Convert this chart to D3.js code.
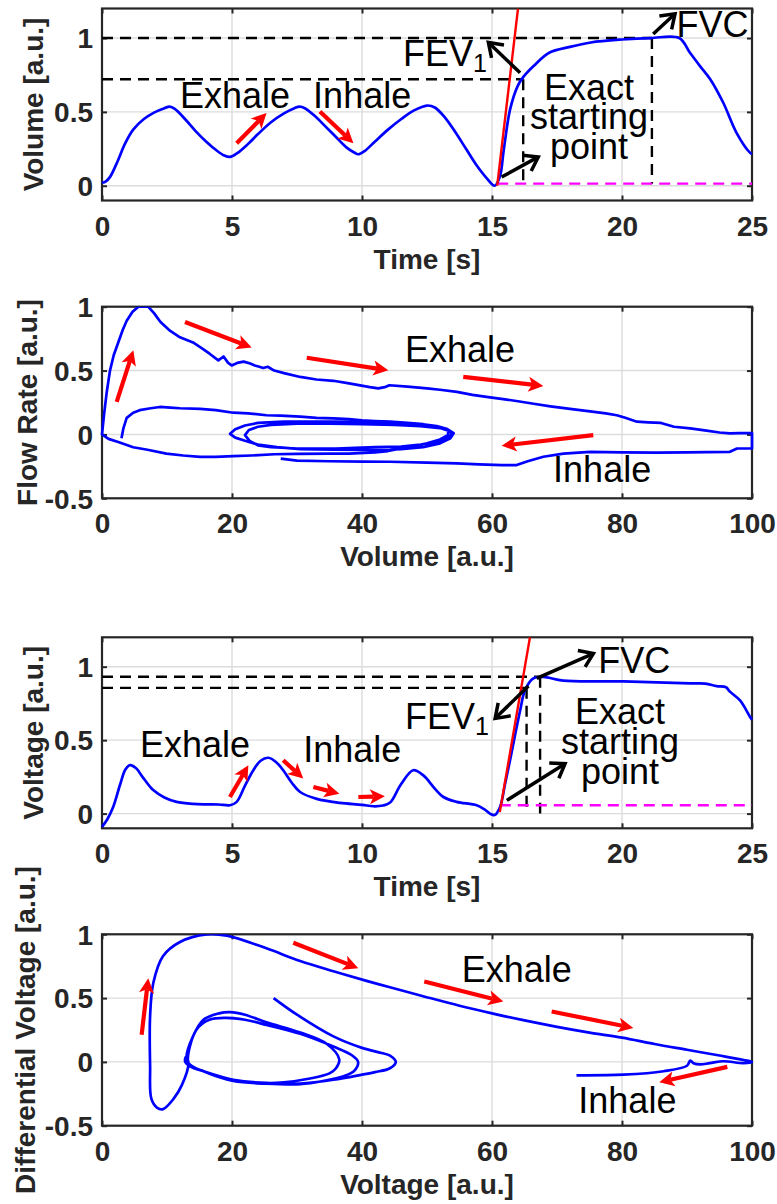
<!DOCTYPE html>
<html><head><meta charset="utf-8">
<script src="https://cdn.jsdelivr.net/npm/d3@7"></script>
<style>
body{margin:0;background:#fff;}
svg text{font-family: Arial, "Liberation Sans", Helvetica, sans-serif;}
</style></head><body>
<svg id="c" width="777" height="1204"></svg>
<script>
// ---------------- DATA ----------------
const timeTicks = [0, 5, 10, 15, 20, 25];
const pctTicks = [0, 20, 40, 60, 80, 100];
const unitTicks = [0, 0.5, 1];
const signedTicks = [-0.5, 0, 0.5, 1];

// Panel 1: volume vs time
const volTime = [0,0.15,0.31,0.56,0.9,1.2,1.6,2.0,2.4,2.6,2.8,3.2,3.6,4.0,4.4,4.7,4.92,5.2,5.6,6.0,6.5,7.0,7.4,7.6,7.8,8.2,8.6,9.0,9.4,9.7,9.85,10.1,10.5,11.0,11.5,12.0,12.5,12.8,13.2,13.6,14.0,14.4,14.8,15.1,15.3,15.45,15.7,16.0,16.2,16.6,17.2,18.0,18.8,20.0,21.1,22.2,22.6,23.0,23.4,23.9,24.4,24.92,25];
const volValue = [0.02,0.03,0.06,0.15,0.29,0.38,0.45,0.495,0.525,0.535,0.52,0.45,0.37,0.3,0.24,0.205,0.195,0.22,0.28,0.35,0.43,0.49,0.525,0.535,0.525,0.47,0.4,0.33,0.26,0.225,0.213,0.235,0.3,0.38,0.45,0.51,0.543,0.53,0.46,0.36,0.25,0.14,0.05,0.0,0.06,0.24,0.52,0.68,0.735,0.81,0.9,0.94,0.97,0.99,1.0,1.0,0.904,0.81,0.72,0.56,0.36,0.224,0.215];

// Panel 2: flow rate vs volume (time ordered)
const fvVolume = [3.0,3.3,3.8,4.8,5.8,7.5,8.9,10.5,12,15.1,17.5,20.2,22.5,25.3,27.5,30.5,33,35.6,38,40,42,44.3,47,49.4,51.5,53,54.1,53.6,52,49.4,46,44.3,40,35.6,30.5,26.9,24,22,20.5,19.7,20.5,22,24,28,32,36,40,44,48,51,53.2,53.8,53.2,51.5,49,46,42,36,30,26,24,22.7,22,22.6,24,26,30,35,40,45,49,52,53.3,53.2,52,50,47,44,42,38,35,30,26.5,23,20.2,17.5,15.1,12.5,9.9,7,4.8,2.5,1,0,
  0.3,0.7,1.23,1.8,2.5,3.2,3.8,4.7,5.6,7.1,8.0,9.0,10.5,12,14,15.5,16.6,17.9,18.7,19.4,19.95,20.8,21.8,22.8,23.5,24.2,24.8,25.5,26.5,28,30.5,33,35.6,38,41.2,42.5,43.5,44.2,47,50,52,54.6,57,59.7,62,64,66.4,69,72,75.1,77.5,79.2,80.5,82.3,84,86,88,90.5,93,95,96.6,98,100,
  100,97.7,96.6,93,90,85.3,80,75.1,71,67.9,65.5,63.8,61.5,58,54.6,50,44.3,40,35,30,27.5];
const fvFlow = [-0.03,0.05,0.13,0.17,0.19,0.205,0.215,0.21,0.205,0.2,0.19,0.17,0.165,0.15,0.148,0.14,0.13,0.125,0.12,0.11,0.105,0.1,0.09,0.08,0.065,0.045,0.01,-0.03,-0.07,-0.1,-0.115,-0.12,-0.122,-0.12,-0.115,-0.1,-0.08,-0.05,-0.025,0.005,0.04,0.07,0.09,0.1,0.1,0.1,0.095,0.09,0.075,0.06,0.04,0.005,-0.03,-0.06,-0.08,-0.095,-0.1,-0.11,-0.11,-0.1,-0.085,-0.05,-0.005,0.035,0.06,0.075,0.085,0.085,0.08,0.075,0.065,0.05,0.03,-0.005,-0.04,-0.07,-0.1,-0.13,-0.14,-0.15,-0.15,-0.152,-0.155,-0.165,-0.17,-0.175,-0.175,-0.165,-0.15,-0.12,-0.1,-0.06,-0.035,0.0,
  0.15,0.32,0.5,0.62,0.72,0.82,0.89,0.96,1.0,1.0,0.95,0.88,0.81,0.76,0.72,0.67,0.63,0.58,0.61,0.56,0.54,0.56,0.57,0.555,0.54,0.53,0.52,0.53,0.5,0.48,0.45,0.43,0.42,0.4,0.37,0.36,0.37,0.385,0.375,0.36,0.35,0.333,0.31,0.29,0.275,0.26,0.24,0.22,0.2,0.18,0.165,0.15,0.13,0.1,0.095,0.09,0.06,0.047,0.03,0.015,0.008,0.01,0.01,
  -0.11,-0.11,-0.136,-0.138,-0.14,-0.143,-0.14,-0.136,-0.15,-0.175,-0.21,-0.24,-0.24,-0.235,-0.227,-0.22,-0.214,-0.213,-0.21,-0.205,-0.19];

// Panel 3: voltage vs time
const vtTime = [0,0.2,0.43,0.7,0.9,1.08,1.3,1.6,1.97,2.4,2.87,3.5,4.03,4.5,4.92,5.18,5.5,5.82,6.1,6.4,6.7,6.97,7.3,7.62,8.26,9.15,10.0,10.44,10.8,11.08,11.5,11.97,12.36,12.8,13.13,13.64,14.41,14.7,14.92,15.1,15.31,15.5,15.69,16.08,16.27,16.59,16.97,17.74,20.05,22.62,23.2,23.64,24.0,24.15,24.54,24.92,25];
const vtValue = [-0.09,-0.04,0.045,0.2,0.3,0.33,0.31,0.24,0.16,0.11,0.08,0.066,0.063,0.062,0.057,0.08,0.19,0.295,0.36,0.38,0.35,0.295,0.21,0.147,0.1,0.073,0.06,0.05,0.055,0.075,0.2,0.295,0.26,0.17,0.113,0.08,0.057,0.03,0.0,-0.01,0.045,0.2,0.36,0.7,0.84,0.92,0.93,0.905,0.9,0.886,0.885,0.868,0.86,0.83,0.77,0.66,0.64];

// Panel 4: differential voltage vs voltage (time ordered)
const dvVoltage = [26.4,30,35.6,40,43,44.3,45.2,44.3,42,40,35.6,30.5,25.3,20.2,15.4,13.5,13,14,15.6,18,19.7,22,25.3,30.5,34.6,36.5,36,35,32,28,25.3,20.2,16,13.5,13.2,14.5,16.5,19,22,25.3,30.5,35.6,38.5,39.4,38.8,37.3,34,30.5,25,20.2,15.5,13.5,12.8,12.9,13.3,12.3,11,9.4,8.5,7.6,7.4,7.4,7.9,9.4,12,16.1,19.2,25.3,30.5,35.6,40.7,44.3,49.4,55,60,65,70,75,80,85,90,95,98.7,100,98.7,95.6,93.5,92,91,90.5,90,86.4,80.2,73];
const dvDiff = [0.5,0.37,0.2,0.11,0.07,0.05,0.0,-0.05,-0.08,-0.1,-0.14,-0.17,-0.17,-0.15,-0.07,-0.02,0.03,0.2,0.33,0.38,0.39,0.37,0.31,0.23,0.14,0.02,-0.05,-0.09,-0.13,-0.16,-0.165,-0.14,-0.08,-0.03,0.02,0.25,0.33,0.345,0.33,0.29,0.22,0.12,0.05,0.0,-0.07,-0.11,-0.15,-0.175,-0.17,-0.15,-0.07,-0.03,0.0,0.04,-0.01,-0.18,-0.29,-0.37,-0.36,-0.29,-0.03,0.36,0.62,0.83,0.94,1.0,0.99,0.89,0.79,0.71,0.635,0.585,0.515,0.44,0.38,0.325,0.275,0.23,0.19,0.14,0.095,0.05,0.015,0.0,-0.01,0.005,-0.01,-0.02,-0.01,0.01,-0.03,-0.073,-0.1,-0.105];

// ---------------- DRAWING ----------------
const svg = d3.select("#c");
const defs = svg.append("defs");
const INK = "#262626";

function makePanel(cfg) {
  const b = cfg.box;
  const x = d3.scaleLinear().domain(cfg.xDomain).range([b.l, b.r]);
  const y = d3.scaleLinear().domain(cfg.yDomain).range([b.b, b.t]);
  const g = svg.append("g");
  defs.append("clipPath").attr("id", "clip" + cfg.id).append("rect")
    .attr("x", b.l - 2).attr("y", b.t).attr("width", b.r - b.l + 4).attr("height", b.b - b.t + 2);
  // grid
  g.append("g").selectAll("line").data(cfg.xTicks).join("line")
    .attr("x1", d => x(d)).attr("x2", d => x(d)).attr("y1", b.t).attr("y2", b.b)
    .attr("stroke", "#dcdcdc").attr("stroke-width", 1.4);
  g.append("g").selectAll("line").data(cfg.yTicks).join("line")
    .attr("y1", d => y(d)).attr("y2", d => y(d)).attr("x1", b.l).attr("x2", b.r)
    .attr("stroke", "#dcdcdc").attr("stroke-width", 1.4);
  const fmt = d => String(d);
  const ax = (axis, tr) => {
    const a = g.append("g").attr("transform", tr).call(axis);
    a.select(".domain").remove();
    a.selectAll("line").attr("stroke", INK).attr("stroke-width", 2);
    a.selectAll("text").attr("fill", INK).attr("font-size", 28).attr("font-weight", "bold");
    return a;
  };
  const bottom = ax(d3.axisBottom(x).tickValues(cfg.xTicks).tickSize(-5).tickFormat(fmt), `translate(0,${b.b})`);
  bottom.selectAll("text").attr("y", 35).attr("dy", null);
  const left = ax(d3.axisLeft(y).tickValues(cfg.yTicks).tickSize(-5).tickFormat(fmt), `translate(${b.l},0)`);
  left.selectAll("text").attr("x", -9).attr("dy", "0.35em");
  ax(d3.axisTop(x).tickValues(cfg.xTicks).tickSize(-5).tickFormat(""), `translate(0,${b.t})`);
  ax(d3.axisRight(y).tickValues(cfg.yTicks).tickSize(-5).tickFormat(""), `translate(${b.r},0)`);
  g.append("rect").attr("x", b.l).attr("y", b.t).attr("width", b.r - b.l).attr("height", b.b - b.t)
    .attr("fill", "none").attr("stroke", INK).attr("stroke-width", 2.2);
  // axis labels
  g.append("text").attr("x", (b.l + b.r) / 2).attr("y", b.b + 68).attr("text-anchor", "middle")
    .attr("font-size", 28).attr("font-weight", "bold").attr("fill", INK).text(cfg.xLabel);
  g.append("text").attr("transform", `translate(${cfg.yLabelX},${(b.t + b.b) / 2}) rotate(-90)`)
    .attr("text-anchor", "middle").attr("font-size", 28).attr("font-weight", "bold").attr("fill", INK).text(cfg.yLabel);
  const plot = g.append("g").attr("clip-path", `url(#clip${cfg.id})`);
  const ann = g.append("g");
  return { x, y, g, plot, ann };
}

function series(p, xs, ys, color, width, dash, curve) {
  const pts = xs.map((d, i) => [d, ys[i]]);
  const line = d3.line().x(d => p.x(d[0])).y(d => p.y(d[1])).curve(curve || d3.curveLinear);
  p.plot.append("path").attr("d", line(pts)).attr("fill", "none").attr("stroke", color)
    .attr("stroke-width", width).attr("stroke-dasharray", dash || null).attr("stroke-linejoin", "round");
}

function text(p, s, xv, yv, anchor, sub) {
  const t = p.ann.append("text").attr("x", p.x(xv)).attr("y", p.y(yv)).attr("text-anchor", anchor || "start")
    .attr("font-size", 36).attr("fill", "#000").text(s);
  if (sub) t.append("tspan").attr("font-size", 25).attr("dy", 6).text(sub);
}

// multi-line annotation kept in one text element
function textLines(p, lines, xv, yv, lineGap) {
  const t = p.ann.append("text").attr("x", p.x(xv)).attr("y", p.y(yv)).attr("text-anchor", "middle")
    .attr("font-size", 36).attr("fill", "#000");
  lines.forEach((s, i) => t.append("tspan").attr("x", p.x(xv)).attr("dy", i ? lineGap : 0).text(s));
}

function arrow(p, x1, y1, x2, y2, color, kind) {
  const X1 = p.x(x1), Y1 = p.y(y1), X2 = p.x(x2), Y2 = p.y(y2);
  const dx = X2 - X1, dy = Y2 - Y1, L = Math.hypot(dx, dy);
  const ux = dx / L, uy = dy / L, nx = -uy, ny = ux;
  if (kind === "red") {
    const hl = 15, hw = 7.5;
    const bx = X2 - ux * hl, by = Y2 - uy * hl;
    const mx = X2 - ux * hl * 0.75, my = Y2 - uy * hl * 0.75;
    p.ann.append("line").attr("x1", X1).attr("y1", Y1).attr("x2", mx).attr("y2", my)
      .attr("stroke", color).attr("stroke-width", 4.2);
    p.ann.append("polygon").attr("points", [[X2, Y2], [bx + nx * hw, by + ny * hw], [mx, my], [bx - nx * hw, by - ny * hw]].join(" "))
      .attr("fill", color);
  } else {
    const hl = 13, hw = 9;
    const bx = X2 - ux * hl, by = Y2 - uy * hl;
    p.ann.append("line").attr("x1", X1).attr("y1", Y1).attr("x2", X2 - ux * 1.5).attr("y2", Y2 - uy * 1.5)
      .attr("stroke", color).attr("stroke-width", 3.5);
    p.ann.append("polyline").attr("points", [[bx + nx * hw, by + ny * hw], [X2, Y2], [bx - nx * hw, by - ny * hw]].join(" "))
      .attr("fill", "none").attr("stroke", color).attr("stroke-width", 3.5).attr("stroke-linejoin", "miter");
  }
}

function seg(p, x1, y1, x2, y2, color, dash) {
  series(p, [x1, x2], [y1, y2], color, 2.4, dash);
}

const BLUE_W = 2.7;

// ---- Panel 1 ----
const p1 = makePanel({ id: 1, xDomain: [0, 25], yDomain: [-0.1, 1.2], box: { l: 102, r: 752, t: 8.5, b: 200.5 },
  xTicks: timeTicks, yTicks: unitTicks, xLabel: "Time [s]", yLabel: "Volume [a.u.]", yLabelX: 43 });
seg(p1, 0, 1.0, 21.15, 1.0, "#000", "11,7");
seg(p1, 0, 0.721, 16.2, 0.721, "#000", "11,7");
seg(p1, 16.2, 0.721, 16.2, 0.014, "#000", "11,7");
seg(p1, 21.15, 1.0, 21.15, 0.014, "#000", "11,7");
seg(p1, 15.2, 0.014, 25, 0.014, "#ff00ff", "11,7");
series(p1, volTime, volValue, "#0000ff", BLUE_W, null, d3.curveCatmullRom);
seg(p1, 15.2, 0, 16.0, 1.2, "#ff0000");
text(p1, "Exhale", 3.0, 0.526);
text(p1, "Inhale", 8.12, 0.526);
arrow(p1, 5.18, 0.287, 6.33, 0.492, "#ff0000", "red");
arrow(p1, 8.38, 0.503, 9.67, 0.287, "#ff0000", "red");
text(p1, "FEV", 11.58, 0.81, "start", "1");
arrow(p1, 16.08, 0.765, 14.86, 0.97, "#000", "black");
text(p1, "FVC", 22.1, 1.005);
arrow(p1, 21.2, 1.027, 22.04, 1.164, "#000", "black");
textLines(p1, ["Exact", "starting", "point"], 18.73, 0.583, 29.5);
arrow(p1, 15.37, 0.059, 16.78, 0.195, "#000", "black");

// ---- Panel 2 ----
const p2 = makePanel({ id: 2, xDomain: [0, 100], yDomain: [-0.5, 1], box: { l: 102, r: 752, t: 306.7, b: 498.3 },
  xTicks: pctTicks, yTicks: signedTicks, xLabel: "Volume [a.u.]", yLabel: "Flow Rate [a.u.]", yLabelX: 37 });
series(p2, fvVolume, fvFlow, "#0000ff", BLUE_W);
arrow(p2, 2.26, 0.255, 4.82, 0.659, "#ff0000", "red");
arrow(p2, 12.77, 0.88, 23.03, 0.68, "#ff0000", "red");
arrow(p2, 31.5, 0.60, 44.05, 0.502, "#ff0000", "red");
arrow(p2, 55.58, 0.45, 67.9, 0.38, "#ff0000", "red");
arrow(p2, 75.58, -0.005, 61.48, -0.089, "#ff0000", "red");
text(p2, "Exhale", 46.6, 0.567);
text(p2, "Inhale", 69.4, -0.37);

// ---- Panel 3 ----
const p3 = makePanel({ id: 3, xDomain: [0, 25], yDomain: [-0.1, 1.2], box: { l: 102, r: 752, t: 637.3, b: 828.3 },
  xTicks: timeTicks, yTicks: unitTicks, xLabel: "Time [s]", yLabel: "Voltage [a.u.]", yLabelX: 43 });
seg(p3, 0, 0.932, 16.85, 0.932, "#000", "11,7");
seg(p3, 0, 0.856, 16.33, 0.856, "#000", "11,7");
seg(p3, 16.33, 0.856, 16.33, 0.04, "#000", "11,7");
seg(p3, 16.85, 0.932, 16.85, 0.0, "#000", "11,7");
seg(p3, 15.3, 0.057, 25, 0.057, "#ff00ff", "11,7");
series(p3, vtTime, vtValue, "#0000ff", BLUE_W, null, d3.curveCatmullRom);
seg(p3, 15.3, 0.01, 16.46, 1.2, "#ff0000");
text(p3, "Exhale", 1.46, 0.386);
text(p3, "Inhale", 7.74, 0.352);
arrow(p3, 4.92, 0.113, 5.63, 0.329, "#ff0000", "red");
arrow(p3, 6.97, 0.363, 7.74, 0.239, "#ff0000", "red");
arrow(p3, 8.13, 0.181, 9.13, 0.136, "#ff0000", "red");
arrow(p3, 9.86, 0.113, 10.88, 0.118, "#ff0000", "red");
text(p3, "FEV", 11.65, 0.579, "start", "1");
arrow(p3, 16.4, 0.868, 15.12, 0.648, "#000", "black");
arrow(p3, 16.72, 0.92, 18.9, 1.09, "#000", "black");
text(p3, "FVC", 19.09, 0.954);
textLines(p3, ["Exact", "starting", "point"], 19.92, 0.613, 30);
arrow(p3, 15.57, 0.09, 17.81, 0.34, "#000", "black");

// ---- Panel 4 ----
const p4 = makePanel({ id: 4, xDomain: [0, 100], yDomain: [-0.5, 1], box: { l: 102, r: 752, t: 934.3, b: 1125.7 },
  xTicks: pctTicks, yTicks: signedTicks, xLabel: "Voltage [a.u.]", yLabel: "Differential Voltage [a.u.]", yLabelX: 35 });
series(p4, dvVoltage, dvDiff, "#0000ff", BLUE_W, null, d3.curveCatmullRom);
arrow(p4, 6.1, 0.213, 7.12, 0.656, "#ff0000", "red");
arrow(p4, 29.43, 0.934, 39.43, 0.734, "#ff0000", "red");
arrow(p4, 49.58, 0.63, 61.74, 0.473, "#ff0000", "red");
arrow(p4, 69.18, 0.395, 81.74, 0.266, "#ff0000", "red");
arrow(p4, 96.2, -0.039, 85.74, -0.159, "#ff0000", "red");
text(p4, "Exhale", 55.34, 0.63);
text(p4, "Inhale", 73.28, -0.398);
</script>
</body></html>
